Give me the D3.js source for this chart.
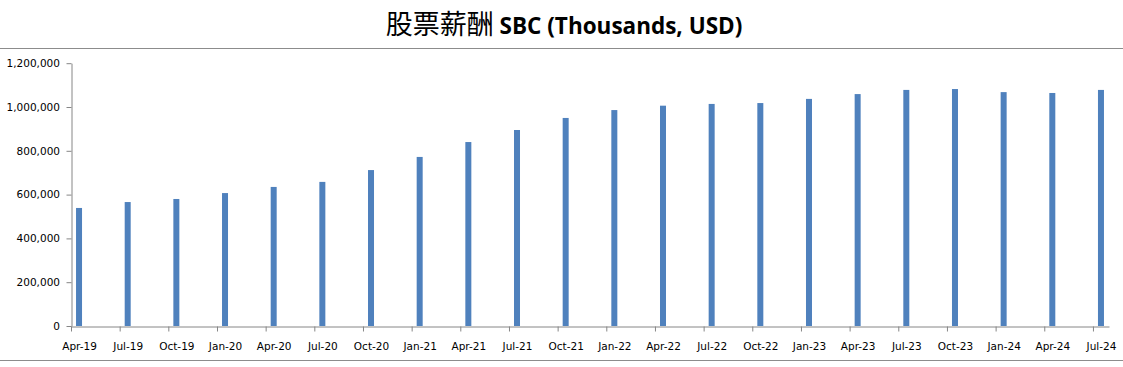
<!DOCTYPE html>
<html>
<head>
<meta charset="utf-8">
<script src="https://cdn.jsdelivr.net/npm/d3@7"></script>
<style>
  html, body { margin: 0; padding: 0; background: #fff; }
  svg { display: block; }
</style>
</head>
<body>
<svg id="chart" width="1123" height="367"></svg>
<script>
const categories = ["Apr-19","Jul-19","Oct-19","Jan-20","Apr-20","Jul-20","Oct-20","Jan-21","Apr-21","Jul-21","Oct-21","Jan-22","Apr-22","Jul-22","Oct-22","Jan-23","Apr-23","Jul-23","Oct-23","Jan-24","Apr-24","Jul-24"];
const sbcValues = [539000,566000,580000,607000,635000,658000,712000,772000,840000,895000,950000,986000,1006000,1014000,1018000,1037000,1059000,1078000,1082000,1068000,1064000,1078000];
const yTicks = [0,200000,400000,600000,800000,1000000,1200000];
const titleCJK = "股票薪酬";
const titleLatin = " SBC (Thousands, USD)";

(function () {
const svg = d3.select("#chart");
const W = 1123, H = 367;
const mLeft = 71, mRight = 1109, mTop = 63.2, mBottom = 326;
const axisColor = "#868686";
const barColor = "#4F81BD";

// Title
const title = svg.append("text")
  .attr("x", 564).attr("y", 34)
  .attr("text-anchor", "middle")
  .attr("fill", "#000");
title.append("tspan").text(titleCJK)
  .style("font-family", "'Noto Sans CJK SC'").style("font-size", "27px").style("font-weight", "400");
title.append("tspan").text(titleLatin)
  .style("font-family", "'Open Sans', 'Liberation Sans', sans-serif").style("font-size", "22.5px").style("font-weight", "700");

// Separator lines
svg.append("line").attr("x1", 0).attr("x2", W).attr("y1", 48.5).attr("y2", 48.5)
  .attr("stroke", "#8c8c8c").attr("stroke-width", 1.2);
svg.append("line").attr("x1", 0).attr("x2", W).attr("y1", 360.5).attr("y2", 360.5)
  .attr("stroke", "#8c8c8c").attr("stroke-width", 1.2);

// Scales
const n = categories.length;
const x = d3.scaleLinear().domain([0, 21.33]).range([mLeft, mRight]);
const barOffset = 0.165;
const barWidth = 6;
const y = d3.scaleLinear().domain([0, 1200000]).range([mBottom, mTop]);

// Y axis
const yAxis = d3.axisLeft(y).tickValues(yTicks).tickSize(5).tickSizeOuter(0)
  .tickFormat(d3.format(","));
const gy = svg.append("g").attr("transform", `translate(${mLeft + 0.5},0)`).call(yAxis);
gy.select(".domain").attr("stroke", axisColor);
gy.selectAll(".tick line").attr("stroke", axisColor);
gy.selectAll(".tick text").attr("fill", "#000")
  .style("font-family", "'DejaVu Sans', sans-serif").style("font-size", "10.5px").attr("x", -11.5);

// Bars
svg.append("g").selectAll("rect").data(sbcValues).join("rect")
  .attr("x", (d, i) => x(i + barOffset) - barWidth / 2)
  .attr("width", barWidth)
  .attr("y", d => y(d))
  .attr("height", d => y(0) - y(d))
  .attr("fill", barColor);

// X axis
const xAxis = d3.axisBottom(x).tickValues(d3.range(n)).tickSize(5).tickSizeOuter(0)
  .tickFormat(i => categories[i]);
const gx = svg.append("g").attr("transform", `translate(0,${mBottom + 0.5})`).call(xAxis);
gx.select(".domain").attr("stroke", axisColor);
gx.selectAll(".tick line").attr("stroke", axisColor);
gx.selectAll(".tick text").attr("fill", "#000")
  .attr("x", x(barOffset) - x(0)).attr("y", 16)
  .style("font-family", "'DejaVu Sans', sans-serif").style("font-size", "10.5px");
})();
</script>
</body>
</html>
